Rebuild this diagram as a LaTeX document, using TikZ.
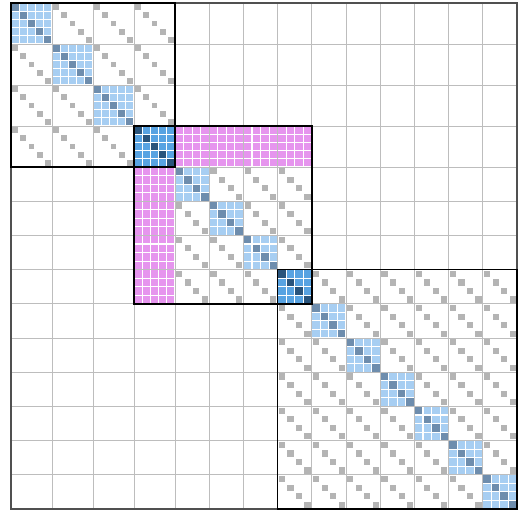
\documentclass[tikz,border=0pt]{standalone}
\usetikzlibrary{calc}
\definecolor{ltblue}{HTML}{A7CEF2}
\definecolor{ltdiag}{HTML}{6E8DAD}
\definecolor{dkblue}{HTML}{58A3E2}
\definecolor{dkdiag}{HTML}{29547C}
\definecolor{crossmag}{HTML}{E695EE}
\definecolor{idgray}{HTML}{B4B4B4}
\definecolor{gridgray}{HTML}{BDBDBD}
\definecolor{framegray}{HTML}{505050}
\newcommand{\fullblk}[3]{%
  \pgfmathsetmacro\ry{bpos(#1)}\pgfmathtruncatemacro\rn{bn(#1)}\pgfmathsetmacro\rc{bw(#1)/\rn}%
  \pgfmathsetmacro\cx{bpos(#2)}\pgfmathtruncatemacro\cn{bn(#2)}\pgfmathsetmacro\cc{bw(#2)/\cn}%
  \foreach \a in {1,...,\rn}{\foreach \b in {1,...,\cn}{%
    \fill[#3] ({\cx+(\b-1)*\cc+0.55},{\ry+(\a-1)*\rc+0.55}) rectangle ++({\cc-1.1},{\rc-1.1});}}}
\newcommand{\diagsq}[4]{%
  \pgfmathsetmacro\ry{bpos(#1)}\pgfmathtruncatemacro\rn{bn(#1)}\pgfmathsetmacro\rc{bw(#1)/\rn}%
  \pgfmathsetmacro\cx{bpos(#2)}\pgfmathsetmacro\cc{bw(#2)/\rn}%
  \foreach \k in {1,...,\rn}{%
    \fill[#3] ({\cx+(\k-1)*\cc+#4},{\ry+(\k-1)*\rc+#4}) rectangle ++({\cc-2*#4},{\rc-2*#4});}}

\begin{document}
\begin{tikzpicture}[x=1pt,y=-1pt,
 declare function={bpos(\q)=min(41*\q,27.2+34.2*\q); bn(\q)=(\q<4)*5+(\q>=4)*4; bw(\q)=(\q<4)*41+(\q>=4)*34.2;},
 gridln/.style={draw=gridgray,line width=0.9pt},
 grp/.style={draw=black,line width=1.5pt},
 frame/.style={draw=framegray,line width=1.5pt},
 ltsq/.style={fill=ltblue}, ltd/.style={fill=ltdiag},
 dksq/.style={fill=dkblue}, dkd/.style={fill=dkdiag},
 crosssq/.style={fill=crossmag}, idsq/.style={fill=idgray}]
\useasboundingbox (0,0) rectangle (520,514);
\begin{scope}[shift={(11,3)}]
\foreach \i in {0,...,14}{\pgfmathsetmacro\p{bpos(\i)}
  \draw[gridln] (\p,0) -- (\p,506);
  \draw[gridln] (0,\p) -- (506,\p);}
\foreach \i in {0,1,2,4,5,6,8,9,...,13}{\fullblk{\i}{\i}{ltsq}\diagsq{\i}{\i}{ltd}{0.55}}
\foreach \i in {3,7}{\fullblk{\i}{\i}{dksq}\diagsq{\i}{\i}{dkd}{0.55}}
\foreach \j in {4,...,7}{\fullblk{3}{\j}{crosssq}\fullblk{\j}{3}{crosssq}}
\foreach \lo/\hi in {0/3,4/7,7/13}{
  \foreach \i in {\lo,...,\hi}{\foreach \j in {\lo,...,\hi}{%
    \ifnum\i=\j\else\diagsq{\i}{\j}{idsq}{1.2}\fi}}}
\draw[frame] (0,0) rectangle (506,506);
\draw[grp] ({bpos(0)},{bpos(0)}) rectangle ({bpos(4)},{bpos(4)});
\draw[grp] ({bpos(3)},{bpos(3)}) rectangle ({bpos(8)},{bpos(8)});
\draw[grp] ({bpos(7)},{bpos(7)}) rectangle ({bpos(14)},{bpos(14)});
\end{scope}
\end{tikzpicture}
\end{document}
